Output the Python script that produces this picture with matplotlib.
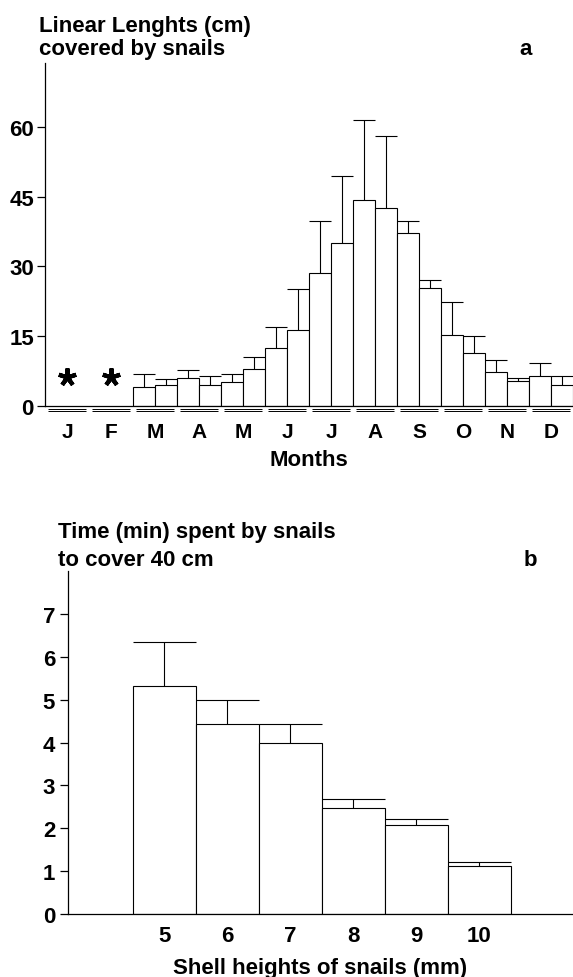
import numpy as np
import matplotlib.pyplot as plt

plt.rcParams['font.family'] = ['Liberation Sans', 'DejaVu Sans']
plt.rcParams['font.weight'] = 'bold'
plt.rcParams['axes.labelweight'] = 'bold'
plt.rcParams['font.size'] = 16

# panel a: linear lengths per half-month (J and F: no data, marked with *)
months = ['J', 'F', 'M', 'A', 'M', 'J', 'J', 'A', 'S', 'O', 'N', 'D']
nan = np.nan
lengths = np.array([nan, nan, nan, nan, 4.0, 4.5, 6.0, 4.5, 5.1, 8.0, 12.5, 16.4,
                    28.6, 35.1, 44.3, 42.6, 37.1, 25.3, 15.3, 11.3, 7.3, 5.3, 6.5, 4.5])
lengths_err = np.array([nan, nan, nan, nan, 2.8, 1.2, 1.75, 2.0, 1.7, 2.5, 4.4, 8.8,
                        11.2, 14.3, 17.3, 15.4, 2.7, 1.7, 7.0, 3.8, 2.5, 0.7, 2.6, 1.8])
star_months = [0, 1]
star_level = 6.2

# panel b: time to cover 40 cm by shell height
shell_heights = [5, 6, 7, 8, 9, 10]
times = np.array([5.32, 4.43, 4.0, 2.48, 2.07, 1.11])
times_err = np.array([1.03, 0.57, 0.43, 0.21, 0.14, 0.11])

W, H = 573, 978
fig = plt.figure(figsize=(W / 100, H / 100), dpi=100)


def px_axes(left, top, right, bottom):
    return fig.add_axes([left / W, 1 - bottom / H, (right - left) / W, (bottom - top) / H])


def style(ax):
    for s in ['top', 'right']:
        ax.spines[s].set_visible(False)
    for s in ['left', 'bottom']:
        ax.spines[s].set_linewidth(0.9)


def bars_with_err(ax, x, y, e, w):
    ax.bar(x, y, width=w, color='white', edgecolor='black', linewidth=0.8, zorder=2)
    ax.vlines(x, y, y + e, color='black', linewidth=0.8, zorder=3)
    ax.hlines(y + e, np.asarray(x) - w / 2, np.asarray(x) + w / 2, color='black',
              linewidth=0.8, zorder=3)


# ---- panel a
ax1 = px_axes(45, 64, 573, 406.7)
style(ax1)
xa = np.arange(len(lengths))
bars_with_err(ax1, xa, lengths, lengths_err, 1.0)
centers = np.arange(len(months)) * 2 + 0.5
ax1.plot(centers[star_months], [star_level] * len(star_months), linestyle='none',
         marker=(5, 2, 0), markersize=13, markeredgewidth=3, color='black')
# double rule under each month
for off in [-0.009, -0.015]:
    ax1.hlines([off] * len(months), centers - 0.88, centers + 0.88, color='black',
               linewidth=0.7, transform=ax1.get_xaxis_transform(), clip_on=False)
ax1.set_xlim(-0.5, 23.5)
ax1.set_ylim(0, 73.8)
ax1.set_yticks([0, 15, 30, 45, 60])
ax1.set_xticks(centers)
ax1.set_xticklabels(months, fontsize=15)
ax1.tick_params(axis='x', length=0, pad=11.5)
ax1.tick_params(axis='y', length=6, width=0.9, pad=2)
ax1.set_xlabel('Months', fontsize=16, labelpad=6)

fig.text(39 / W, 1 - 32 / H, 'Linear Lenghts (cm)', fontsize=16, ha='left', va='baseline')
fig.text(39 / W, 1 - 55 / H, 'covered by snails', fontsize=16, ha='left', va='baseline')
fig.text(526 / W, 1 - 55 / H, 'a', fontsize=16, ha='center', va='baseline')

# ---- panel b
ax2 = px_axes(67.7, 572, 573, 915)
style(ax2)
bars_with_err(ax2, shell_heights, times, times_err, 1.0)
ax2.set_xlim(3.47, 11.49)
ax2.set_ylim(0, 8)
ax2.set_yticks(range(8))
ax2.set_xticks(shell_heights)
ax2.tick_params(axis='x', length=0, pad=8)
ax2.tick_params(axis='y', length=6, width=0.9, pad=3)
ax2.set_xlabel('Shell heights of snails (mm)', fontsize=16, labelpad=8)

fig.text(58 / W, 1 - 538 / H, 'Time (min) spent by snails', fontsize=16, ha='left', va='baseline')
fig.text(58 / W, 1 - 566 / H, 'to cover 40 cm', fontsize=16, ha='left', va='baseline')
fig.text(530 / W, 1 - 566 / H, 'b', fontsize=16, ha='center', va='baseline')

fig.savefig('out.png', dpi=100)
